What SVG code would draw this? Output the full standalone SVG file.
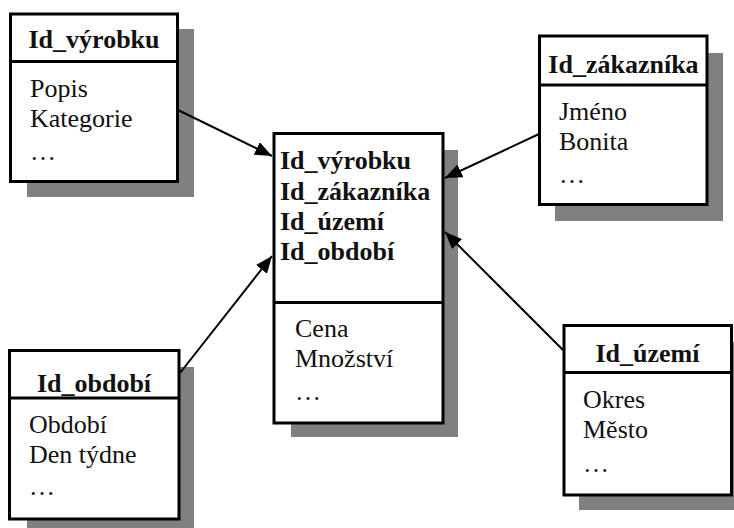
<svg xmlns="http://www.w3.org/2000/svg" width="734" height="528" viewBox="0 0 734 528">
  <style>
    .shadow { fill: #808080; stroke: none; }
    .box { fill: #ffffff; stroke: #000000; stroke-width: 3; }
    .div { stroke: #000000; stroke-width: 3; }
    .conn { stroke: #000000; stroke-width: 2; fill: none; }
    text { font-family: "Liberation Serif", "Times New Roman", serif; font-size: 26px; fill: #111111; }
    .hdr { font-weight: bold; text-anchor: middle; }
    .key { font-weight: bold; }
  </style>
  <defs>
    <marker id="arrow" markerUnits="userSpaceOnUse" markerWidth="18" markerHeight="14" refX="17" refY="7" orient="auto">
      <path d="M0,0 L17,7 L0,14 z" fill="#000000"/>
    </marker>
  </defs>

  <rect width="734" height="528" fill="#ffffff"/>

  <!-- product dimension -->
  <g id="vyrobek">
    <rect class="shadow" x="27" y="29" width="167" height="168"/>
    <rect class="box" x="10.5" y="14" width="167" height="167.5"/>
    <line class="div" x1="10.5" y1="61.5" x2="177.5" y2="61.5"/>
    <text class="hdr" x="94" y="48">Id_výrobku</text>
    <text x="30" y="97">Popis</text>
    <text x="30" y="127">Kategorie</text>
    <text x="30" y="160">…</text>
  </g>

  <!-- customer dimension -->
  <g id="zakaznik">
    <rect class="shadow" x="555" y="53" width="168" height="168"/>
    <rect class="box" x="539.5" y="36" width="167.5" height="168.5"/>
    <line class="div" x1="539.5" y1="85" x2="707" y2="85"/>
    <text class="hdr" x="623.5" y="73">Id_zákazníka</text>
    <text x="559" y="120">Jméno</text>
    <text x="559" y="150">Bonita</text>
    <text x="559" y="183">…</text>
  </g>

  <!-- fact table -->
  <g id="fakta">
    <rect class="shadow" x="291" y="150" width="167" height="287"/>
    <rect class="box" x="274" y="133.5" width="169" height="289.5"/>
    <line class="div" x1="274" y1="302.5" x2="443" y2="302.5"/>
    <text class="key" x="280" y="169">Id_výrobku</text>
    <text class="key" x="280" y="200">Id_zákazníka</text>
    <text class="key" x="280" y="230">Id_území</text>
    <text class="key" x="280" y="260">Id_období</text>
    <text x="295" y="337">Cena</text>
    <text x="295" y="367">Množství</text>
    <text x="295" y="400">…</text>
  </g>

  <!-- time dimension -->
  <g id="obdobi">
    <rect class="shadow" x="27" y="367" width="167" height="161"/>
    <rect class="box" x="9.5" y="350.5" width="169.5" height="168.5"/>
    <line class="div" x1="9.5" y1="398" x2="179" y2="398"/>
    <text class="hdr" x="94" y="392">Id_období</text>
    <text x="29" y="433">Období</text>
    <text x="29" y="463">Den týdne</text>
    <text x="29" y="495">…</text>
  </g>

  <!-- territory dimension -->
  <g id="uzemi">
    <rect class="shadow" x="579" y="342" width="170" height="168"/>
    <rect class="box" x="564" y="325.5" width="167.5" height="169.5"/>
    <line class="div" x1="564" y1="372.5" x2="731.5" y2="372.5"/>
    <text class="hdr" x="647.5" y="362">Id_území</text>
    <text x="583" y="408">Okres</text>
    <text x="583" y="438">Město</text>
    <text x="583" y="472">…</text>
  </g>

  <!-- connectors: dimension tables point at the fact table, drawn over the shadows -->
  <g id="connectors">
    <line class="conn" x1="178" y1="110" x2="272" y2="156" marker-end="url(#arrow)"/>
    <line class="conn" x1="539" y1="134" x2="445" y2="178" marker-end="url(#arrow)"/>
    <line class="conn" x1="180" y1="373" x2="272" y2="256" marker-end="url(#arrow)"/>
    <line class="conn" x1="563" y1="350" x2="445" y2="232" marker-end="url(#arrow)"/>
  </g>
</svg>
